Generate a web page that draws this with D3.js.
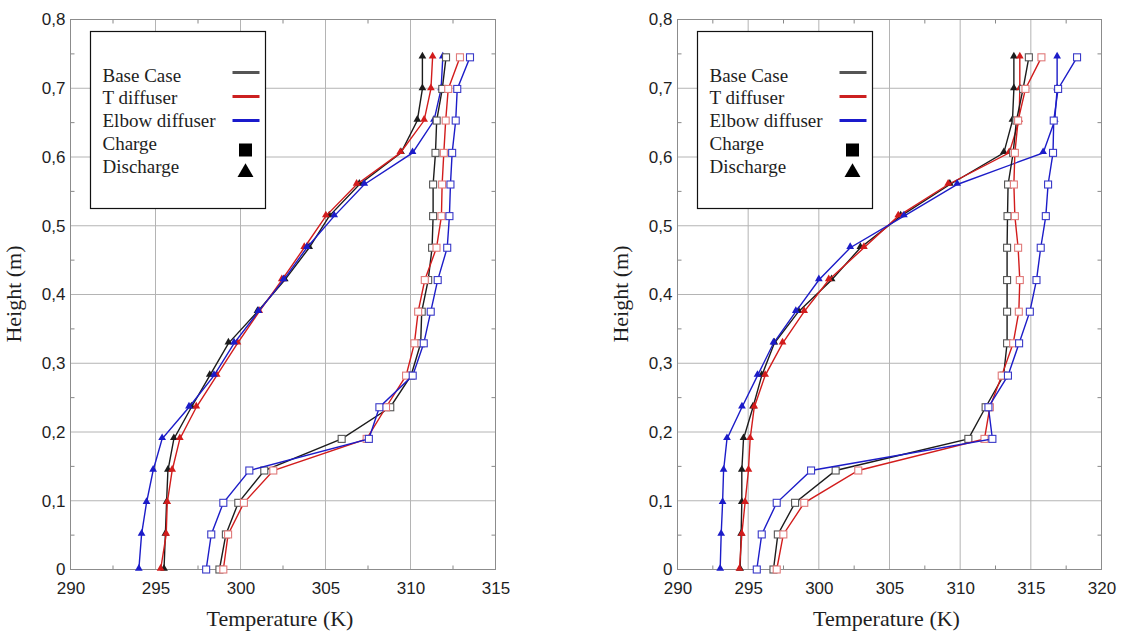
<!DOCTYPE html>
<html>
<head>
<meta charset="utf-8">
<script src="https://cdn.jsdelivr.net/npm/d3@7"></script>
<style>
  body { margin: 0; background: #fff; }
  .tick text { font-family: "Liberation Sans", Arial, sans-serif; font-size: 17px; fill: #1e1e1e; }
  .title, .legend text { font-family: "Liberation Serif", "Times New Roman", serif; fill: #1e1e1e; }
</style>
</head>
<body>
<div id="chart"></div>
<script>
// measurement heights (m), shared by every profile
const heights = [0, 0.051, 0.097, 0.144, 0.19, 0.236, 0.282, 0.329, 0.375, 0.421, 0.468, 0.514, 0.56, 0.606, 0.653, 0.699, 0.745];

const heightTicks = [0, 0.1, 0.2, 0.3, 0.4, 0.5, 0.6, 0.7, 0.8];
const tempTicksLeft = [290, 295, 300, 305, 310, 315];
const tempTicksRight = [290, 295, 300, 305, 310, 315, 320];

const caseNames = ["Base Case", "T diffuser", "Elbow diffuser"];
const modeNames = ["Charge", "Discharge"];

// left panel, temperature (K) at each height
const leftBaseDischarge  = [295.5, 295.58, 295.65, 295.73, 296.08, 297.11, 298.19, 299.29, 301.0, 302.6, 304.04, 305.22, 306.99, 309.44, 310.4, 310.7, 310.7];
const leftTDischarge     = [295.3, 295.63, 295.69, 295.98, 296.43, 297.4, 298.6, 299.82, 301.1, 302.43, 303.75, 305.02, 306.83, 309.4, 310.8, 311.2, 311.3];
const leftElbowDischarge = [294.02, 294.18, 294.47, 294.86, 295.39, 296.97, 298.44, 299.62, 301.05, 302.53, 303.9, 305.51, 307.28, 310.12, 311.38, 311.8, 311.9];
const leftBaseCharge     = [298.76, 299.14, 299.87, 301.4, 305.95, 308.81, 310.03, 310.6, 310.66, 311.04, 311.27, 311.33, 311.33, 311.47, 311.54, 311.87, 312.09];
const leftTCharge        = [298.99, 299.27, 300.2, 301.93, 307.42, 308.56, 309.74, 310.23, 310.45, 310.84, 311.53, 311.82, 311.86, 311.96, 312.07, 312.22, 312.91];
const leftElbowCharge    = [297.98, 298.28, 298.99, 300.52, 307.55, 308.17, 310.13, 310.78, 311.19, 311.6, 312.16, 312.29, 312.35, 312.45, 312.66, 312.75, 313.5];

// right panel
const rightBaseDischarge  = [294.43, 294.5, 294.55, 294.55, 294.67, 295.34, 295.96, 296.85, 298.56, 300.9, 302.94, 305.79, 309.27, 313.09, 313.7, 313.8, 313.8];
const rightTDischarge     = [294.38, 294.55, 294.78, 295.02, 295.14, 295.43, 296.2, 297.43, 298.96, 300.7, 303.19, 305.62, 309.15, 313.47, 314.17, 314.22, 314.22];
const rightElbowDischarge = [293.02, 293.09, 293.19, 293.26, 293.5, 294.56, 295.66, 296.79, 298.37, 300.0, 302.22, 306.02, 309.79, 315.87, 316.69, 316.86, 316.86];
const rightBaseCharge     = [296.79, 297.1, 298.32, 301.19, 310.58, 311.8, 313.07, 313.32, 313.32, 313.32, 313.32, 313.35, 313.39, 313.75, 313.98, 314.45, 314.86];
const rightTCharge        = [297.02, 297.49, 298.97, 302.79, 311.72, 312.1, 312.94, 313.75, 314.15, 314.22, 314.1, 313.87, 313.8, 313.87, 314.1, 314.62, 315.75];
const rightElbowCharge    = [295.61, 295.96, 297.02, 299.45, 312.28, 312.0, 313.38, 314.17, 314.93, 315.4, 315.7, 316.06, 316.22, 316.57, 316.62, 316.93, 318.27];

const lineColors = ["#1c1c1c", "#d21c1c", "#1c1cc8"];
const squareStroke = ["#555", "#e07a7a", "#3a3ac8"];
const legendColors = ["#555", "#cc2020", "#1a1acc"];

const comma = d3.formatLocale({ decimal: ",", thousands: ".", grouping: [3], currency: ["", ""] }).format("~g");

class ProfilePanel {
    constructor(svg) {
        this.svg = svg;
    }

    create = function (cfg) {
        this.x = d3.scaleLinear().domain(cfg.tDomain).range([cfg.left, cfg.right]);
        this.y = d3.scaleLinear().domain([0, 0.8]).range([cfg.bottom, cfg.top]);
        this.cfg = cfg;
        this.g = this.svg.append("g");
        return this;
    }

    renderFrame = function () {
        const { x, y, cfg, g } = this;

        // grid
        g.append("g").selectAll("line.gx").data(cfg.tTicks).join("line")
            .attr("x1", d => x(d)).attr("x2", d => x(d))
            .attr("y1", cfg.top).attr("y2", cfg.bottom)
            .attr("stroke", "#b4b4b4").attr("stroke-width", 1);
        g.append("g").selectAll("line.gy").data(heightTicks).join("line")
            .attr("x1", cfg.left).attr("x2", cfg.right)
            .attr("y1", d => y(d)).attr("y2", d => y(d))
            .attr("stroke", "#b4b4b4").attr("stroke-width", 1);

        // minor ticks on all four sides, pointing inward
        const minorT = d3.range(cfg.tDomain[0] + 2.5, cfg.tDomain[1], 5);
        const minorH = d3.range(0.05, 0.8, 0.1);
        const mt = g.append("g").attr("stroke", "#888").attr("stroke-width", 1);
        minorT.forEach(t => {
            mt.append("line").attr("x1", x(t)).attr("x2", x(t)).attr("y1", cfg.bottom).attr("y2", cfg.bottom - 4);
            mt.append("line").attr("x1", x(t)).attr("x2", x(t)).attr("y1", cfg.top).attr("y2", cfg.top + 4);
        });
        minorH.forEach(h => {
            mt.append("line").attr("y1", y(h)).attr("y2", y(h)).attr("x1", cfg.left).attr("x2", cfg.left + 4);
            mt.append("line").attr("y1", y(h)).attr("y2", y(h)).attr("x1", cfg.right).attr("x2", cfg.right - 4);
        });

        g.append("rect")
            .attr("x", cfg.left).attr("y", cfg.top)
            .attr("width", cfg.right - cfg.left).attr("height", cfg.bottom - cfg.top)
            .attr("fill", "none").attr("stroke", "#8c8c8c");

        // axes (labels only)
        g.append("g")
            .attr("transform", `translate(0,${cfg.bottom})`)
            .call(d3.axisBottom(x).tickValues(cfg.tTicks).tickSize(0).tickPadding(12.5).tickFormat(d3.format("d")))
            .call(a => a.select(".domain").remove());
        g.append("g")
            .attr("transform", `translate(${cfg.left},0)`)
            .call(d3.axisLeft(y).tickValues(heightTicks).tickSize(0).tickPadding(5).tickFormat(d => d === 0 ? "0" : comma(d)))
            .call(a => a.select(".domain").remove());

        g.append("text").attr("class", "title")
            .attr("x", (cfg.left + cfg.right) / 2 - 3).attr("y", 626)
            .attr("text-anchor", "middle").style("font-size", "22px")
            .text("Temperature (K)");
        g.append("text").attr("class", "title")
            .attr("transform", `translate(${cfg.left - 50},${cfg.yLabel}) rotate(-90)`)
            .attr("text-anchor", "middle").style("font-size", "22px")
            .text("Height (m)");
        return this;
    }

    renderSeries = function (charge, discharge) {
        const { x, y, g } = this;
        const line = d3.line().x(d => x(d[0])).y(d => y(d[1]));
        const tri = d3.symbol().type(d3.symbolTriangle).size(26);

        discharge.forEach((temps, i) => {
            const pts = temps.map((t, k) => [t, heights[k]]);
            g.append("path").attr("d", line(pts))
                .attr("fill", "none").attr("stroke", lineColors[i]).attr("stroke-width", 1.4);
            g.append("g").selectAll("path").data(pts).join("path")
                .attr("transform", d => `translate(${x(d[0])},${y(d[1]) - 1})`)
                .attr("d", tri).attr("fill", lineColors[i]);
        });

        charge.forEach((temps, i) => {
            const pts = temps.map((t, k) => [t, heights[k]]);
            g.append("path").attr("d", line(pts))
                .attr("fill", "none").attr("stroke", lineColors[i]).attr("stroke-width", 1.4);
            g.append("g").selectAll("rect").data(pts).join("rect")
                .attr("x", d => x(d[0]) - 3.5).attr("y", d => y(d[1]) - 3.5)
                .attr("width", 7).attr("height", 7)
                .attr("fill", "#fff").attr("stroke", squareStroke[i]).attr("stroke-width", 1.1);
        });
        return this;
    }

    renderLegend = function (bx, by) {
        const lg = this.g.append("g").attr("class", "legend").attr("transform", `translate(${bx},${by})`);
        lg.append("rect").attr("width", 175).attr("height", 177)
            .attr("fill", "#fff").attr("stroke", "#111").attr("stroke-width", 1.2);

        const labels = caseNames.concat(modeNames);
        lg.selectAll("text").data(labels).join("text")
            .attr("x", 12).attr("y", (d, i) => 50 + i * 22.8)
            .style("font-size", "19px").text(d => d);

        lg.selectAll("line").data(caseNames).join("line")
            .attr("x1", 142).attr("x2", 169)
            .attr("y1", (d, i) => 41 + i * 24).attr("y2", (d, i) => 41 + i * 24)
            .attr("stroke", (d, i) => legendColors[i]).attr("stroke-width", 3);

        lg.append("rect").attr("x", 148.5).attr("y", 112).attr("width", 13).attr("height", 13).attr("fill", "#000");
        lg.append("path").attr("transform", "translate(155,141)")
            .attr("d", d3.symbol().type(d3.symbolTriangle).size(110)).attr("fill", "#000");
        return this;
    }
}

const svg = d3.select("#chart").append("svg").attr("width", 1125).attr("height", 635);

new ProfilePanel(svg)
    .create({ left: 70.5, right: 495.5, top: 19.5, bottom: 569.5, tDomain: [290, 315], tTicks: tempTicksLeft, yLabel: 294 })
    .renderFrame()
    .renderSeries([leftBaseCharge, leftTCharge, leftElbowCharge], [leftBaseDischarge, leftTDischarge, leftElbowDischarge])
    .renderLegend(90.5, 31.5);

new ProfilePanel(svg)
    .create({ left: 677.5, right: 1101.5, top: 19.5, bottom: 569.5, tDomain: [290, 320], tTicks: tempTicksRight, yLabel: 294 })
    .renderFrame()
    .renderSeries([rightBaseCharge, rightTCharge, rightElbowCharge], [rightBaseDischarge, rightTDischarge, rightElbowDischarge])
    .renderLegend(697.5, 31.5);
</script>
</body>
</html>
